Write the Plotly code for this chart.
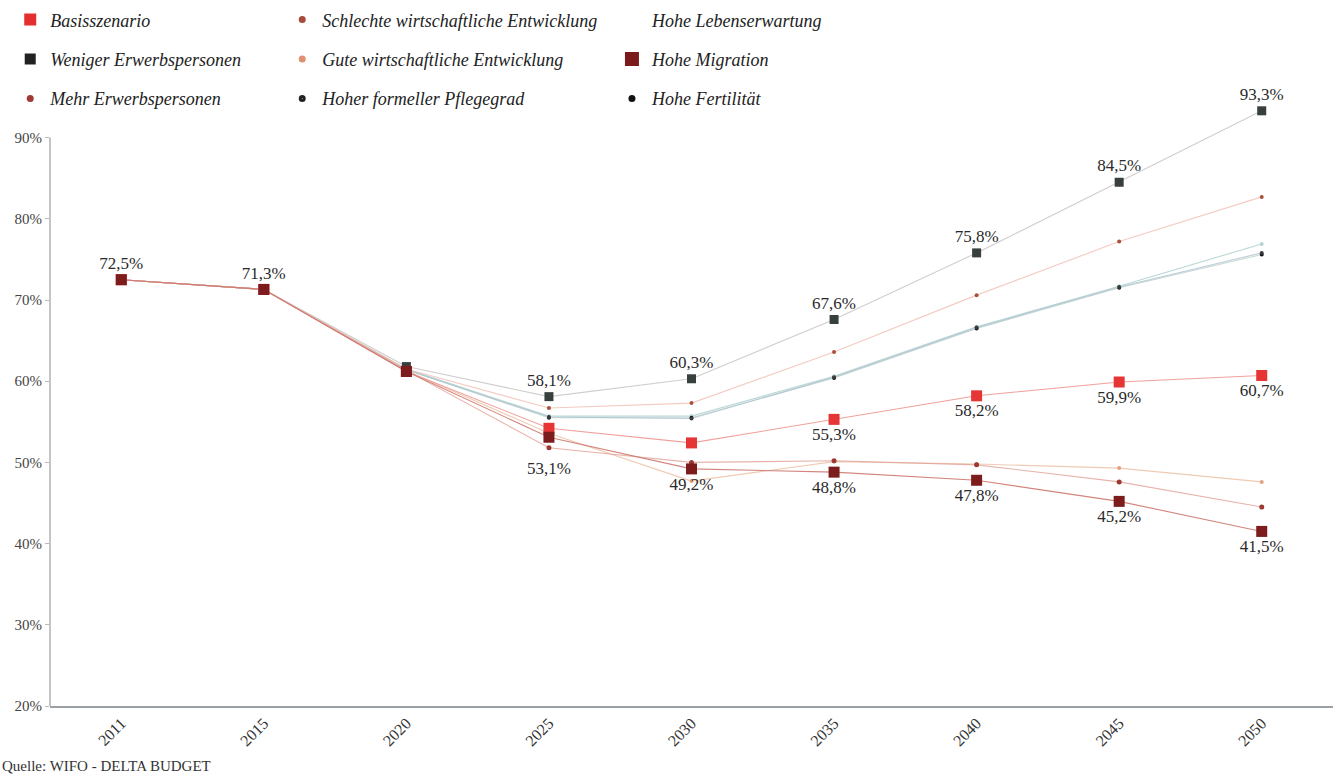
import plotly.graph_objects as go

years = ["2011", "2015", "2020", "2025", "2030", "2035", "2040", "2045", "2050"]

basis = [72.5, 71.3, 61.2, 54.2, 52.4, 55.3, 58.2, 59.9, 60.7]
weniger = [72.5, 71.3, 61.8, 58.1, 60.3, 67.6, 75.8, 84.5, 93.3]
mehr = [72.5, 71.3, 61.3, 51.8, 50.0, 50.2, 49.7, 47.6, 44.5]
schlechte = [72.5, 71.3, 61.5, 56.7, 57.3, 63.6, 70.6, 77.2, 82.7]
gute = [72.5, 71.3, 61.3, 53.6, 47.7, 50.1, 49.8, 49.3, 47.6]
lebenserwartung = [72.5, 71.3, 61.5, 55.7, 55.7, 60.6, 66.7, 71.7, 76.9]
migration = [72.5, 71.3, 61.2, 53.1, 49.2, 48.8, 47.8, 45.2, 41.5]
pflegegrad = [72.5, 71.3, 61.4, 55.6, 55.4, 60.5, 66.6, 71.6, 75.8]
fertilitaet = [72.5, 71.3, 61.4, 55.5, 55.5, 60.4, 66.5, 71.5, 75.6]

y_ticks = [20, 30, 40, 50, 60, 70, 80, 90]
y_tick_text = ["20%", "30%", "40%", "50%", "60%", "70%", "80%", "90%"]


def pct(v):
    return f"{v:.1f}%".replace(".", ",")


# which points carry a value label
weniger_labels = [pct(v) if i in (0, 1, 3, 4, 5, 6, 7, 8) else "" for i, v in enumerate(weniger)]
basis_labels = [pct(v) if i >= 5 else "" for i, v in enumerate(basis)]
migration_labels = [pct(v) if i >= 4 else "" for i, v in enumerate(migration)]

SERIF = "Liberation Serif"
LABEL_FONT = dict(family=SERIF, size=17, color="#2a2a2a")

# name, values, line colour, marker colour, symbol, size, labels, label position
series = [
    ("Hohe Lebenserwartung", lebenserwartung, "rgba(170,205,205,0.8)", "rgba(175,210,210,0.9)", "circle", 4, None, None),
    ("Hohe Fertilität", fertilitaet, "rgba(180,200,205,0.7)", "#111111", "circle", 4, None, None),
    ("Hoher formeller Pflegegrad", pflegegrad, "rgba(170,195,200,0.8)", "#3a3a3a", "circle", 4, None, None),
    ("Gute wirtschaftliche Entwicklung", gute, "rgba(235,190,160,0.8)", "#e2a27e", "circle", 4, None, None),
    ("Schlechte wirtschaftliche Entwicklung", schlechte, "rgba(240,190,180,0.8)", "#a8503c", "circle", 4, None, None),
    ("Mehr Erwerbspersonen", mehr, "rgba(225,160,150,0.8)", "#9c3a32", "circle", 5, None, None),
    ("Weniger Erwerbspersonen", weniger, "rgba(205,200,200,0.9)", "#38403f", "square", 9, weniger_labels, "top center"),
    ("Basisszenario", basis, "rgba(238,150,145,0.9)", "#e53535", "square", 11, basis_labels, "bottom center"),
    ("Hohe Migration", migration, "rgba(205,120,110,0.9)", "#7c1c1c", "square", 11, migration_labels, "bottom center"),
]

fig = go.Figure()

for name, vals, lc, mc, sym, size, labels, tpos in series:
    fig.add_trace(go.Scatter(
        x=years, y=vals, name=name,
        mode="lines+markers+text" if labels else "lines+markers",
        line=dict(color=lc, width=1.1),
        marker=dict(color=mc, symbol=sym, size=size),
        text=labels, textposition=tpos, textfont=LABEL_FONT,
        cliponaxis=False, showlegend=False, hoverinfo="skip",
    ))

# the 2025 migration label sits lower, clear of the converging lines
i2025 = years.index("2025")
annotations = [dict(
    x=i2025, y=migration[i2025], xref="x", yref="y",
    text=pct(migration[i2025]), showarrow=False,
    yshift=-31, font=LABEL_FONT,
)]

# legend entries: three columns of three items each
legend_order = {
    "legend": ["Basisszenario", "Weniger Erwerbspersonen", "Mehr Erwerbspersonen"],
    "legend2": ["Schlechte wirtschaftliche Entwicklung", "Gute wirtschaftliche Entwicklung", "Hoher formeller Pflegegrad"],
    "legend3": ["Hohe Lebenserwartung", "Hohe Migration", "Hohe Fertilität"],
}
legend_marker = {
    "Basisszenario": ("#e52f2f", "square", 12),
    "Weniger Erwerbspersonen": ("#222222", "square", 11),
    "Mehr Erwerbspersonen": ("#a03a34", "circle", 7),
    "Schlechte wirtschaftliche Entwicklung": ("#a84a3a", "circle", 7),
    "Gute wirtschaftliche Entwicklung": ("#e09070", "circle", 7),
    "Hoher formeller Pflegegrad": ("#222222", "circle-dot", 7),
    "Hohe Lebenserwartung": ("rgba(255,255,255,0)", "circle", 7),
    "Hohe Migration": ("#7a1a1a", "square", 14),
    "Hohe Fertilität": ("#111111", "circle", 7),
}
for leg, names in legend_order.items():
    for i, nm in enumerate(names):
        col, sym, size = legend_marker[nm]
        fig.add_trace(go.Scatter(
            x=[None], y=[None], mode="markers", name=nm,
            marker=dict(color=col, symbol=sym, size=size),
            legend=leg, legendgroup=nm, legendrank=i + 1, showlegend=True,
        ))

legend_common = dict(
    orientation="v", yanchor="top", y=1.157, tracegroupgap=13,
    bgcolor="rgba(0,0,0,0)", itemclick=False, itemdoubleclick=False,
    font=dict(family=SERIF, size=18, color="#222222", style="italic"),
    traceorder="grouped",
)

annotations.append(dict(
    text="Quelle: WIFO - DELTA BUDGET", xref="paper", yref="paper",
    x=-0.039, y=-0.098, xanchor="left", yanchor="middle", showarrow=False,
    font=dict(family=SERIF, size=15, color="#333333"),
))

fig.update_layout(
    width=1333, height=782,
    margin=dict(l=50, r=0, t=97, b=76),
    paper_bgcolor="white", plot_bgcolor="white",
    legend=dict(x=-0.031, **legend_common),
    legend2=dict(x=0.181, **legend_common),
    legend3=dict(x=0.438, **legend_common),
    xaxis=dict(
        type="category", range=[-0.5, 8.5], showgrid=False,
        showline=True, linecolor="#9aa0a4", linewidth=1.5,
        ticks="", tickangle=-45,
        tickfont=dict(family=SERIF, size=16, color="#333333"),
    ),
    yaxis=dict(
        range=[20, 95], showgrid=False, zeroline=False, showline=False,
        tickvals=y_ticks, ticktext=y_tick_text,
        ticks="outside", ticklen=4, tickcolor="#bbbbbb",
        tickfont=dict(family=SERIF, size=15, color="#444444"),
    ),
    shapes=[dict(type="line", xref="paper", yref="y", x0=0, x1=0, y0=20, y1=90,
                 line=dict(color="#9aa0a4", width=1.2))],
    annotations=annotations,
)

fig.write_html("out.html")
